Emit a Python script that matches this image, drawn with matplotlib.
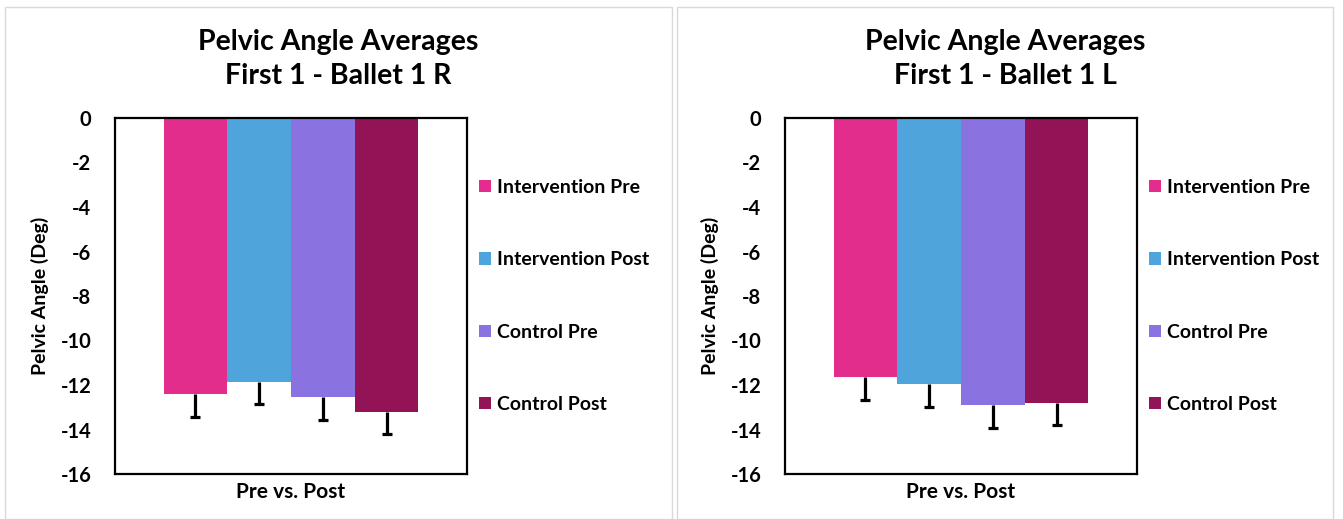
import numpy as np
import matplotlib
matplotlib.use("Agg")
import matplotlib.pyplot as plt
from matplotlib.patches import Patch, Rectangle

plt.rcParams['font.family'] = ['Lato', 'DejaVu Sans']
plt.rcParams['font.weight'] = 'bold'
plt.rcParams['axes.unicode_minus'] = False

groups = ['Intervention Pre', 'Intervention Post', 'Control Pre', 'Control Post']
colors = ['#E32D8D', '#4FA5DB', '#8A73E0', '#921356']

titles = ['Pelvic Angle Averages\nFirst 1 - Ballet 1 R',
          'Pelvic Angle Averages\nFirst 1 - Ballet 1 L']
means_r = [-12.42, -11.85, -12.52, -13.21]
err_r = [1.0, 1.0, 1.05, 1.0]
means_l = [-11.66, -11.96, -12.88, -12.81]
err_l = [1.01, 1.01, 1.04, 1.0]

W, H = 1343, 519
fig = plt.figure(figsize=(W / 100, H / 100), dpi=100)

# light grey chart-area frames
for x0, x1 in [(5, 672), (677, 1333)]:
    fig.patches.append(Rectangle((x0 / W, 0), (x1 - x0) / W, (H - 7) / H,
                                 transform=fig.transFigure, fill=False,
                                 edgecolor='#D9D9D9', linewidth=1))

def panel(left_px, center_px, title, means, errs):
    ax = fig.add_axes([left_px / W, 45 / H, 352 / W, 356 / H])
    w = 0.181
    x = (np.arange(len(means)) - 1.5) * w
    ax.bar(x, means, width=w, color=colors, zorder=2)
    eb = ax.errorbar(x, means, yerr=[errs, np.zeros(len(errs))], fmt='none',
                     ecolor='black', elinewidth=2.3, capsize=3.8, capthick=2.3,
                     zorder=3)
    # keep only the caps at the far end of each bar
    for cl in eb[1]:
        if np.allclose(cl.get_ydata(), means):
            cl.set_visible(False)
    ax.set_xlim(-0.5, 0.5)
    ax.set_ylim(-16, 0)
    ax.set_yticks(np.arange(-16, 1, 2))
    ax.set_xticks([])
    ax.tick_params(axis='y', length=0, pad=17, labelsize=14.5)
    for s in ax.spines.values():
        s.set_linewidth(1.6)
    ax.set_xlabel('Pre vs. Post', fontsize=15, fontweight='bold', labelpad=6)
    ax.set_ylabel('Pelvic Angle (Deg)', fontsize=14, fontweight='bold', labelpad=8)
    handles = [Patch(facecolor=c) for c in colors]
    ax.legend(handles, groups, loc='center left', bbox_to_anchor=(1.035, 0.5),
              frameon=False, fontsize=14, borderpad=0, handlelength=0.6,
              handleheight=0.6, handletextpad=0.3, labelspacing=2.85,
              borderaxespad=0)
    fig.text(center_px / W, 1 - 59 / H, title, ha='center', va='center',
             fontsize=20.5, fontweight='bold', linespacing=1.35)
    return ax

panel(115, 338, titles[0], means_r, err_r)
panel(785, 1005, titles[1], means_l, err_l)

fig.savefig('out.png', dpi=100)
